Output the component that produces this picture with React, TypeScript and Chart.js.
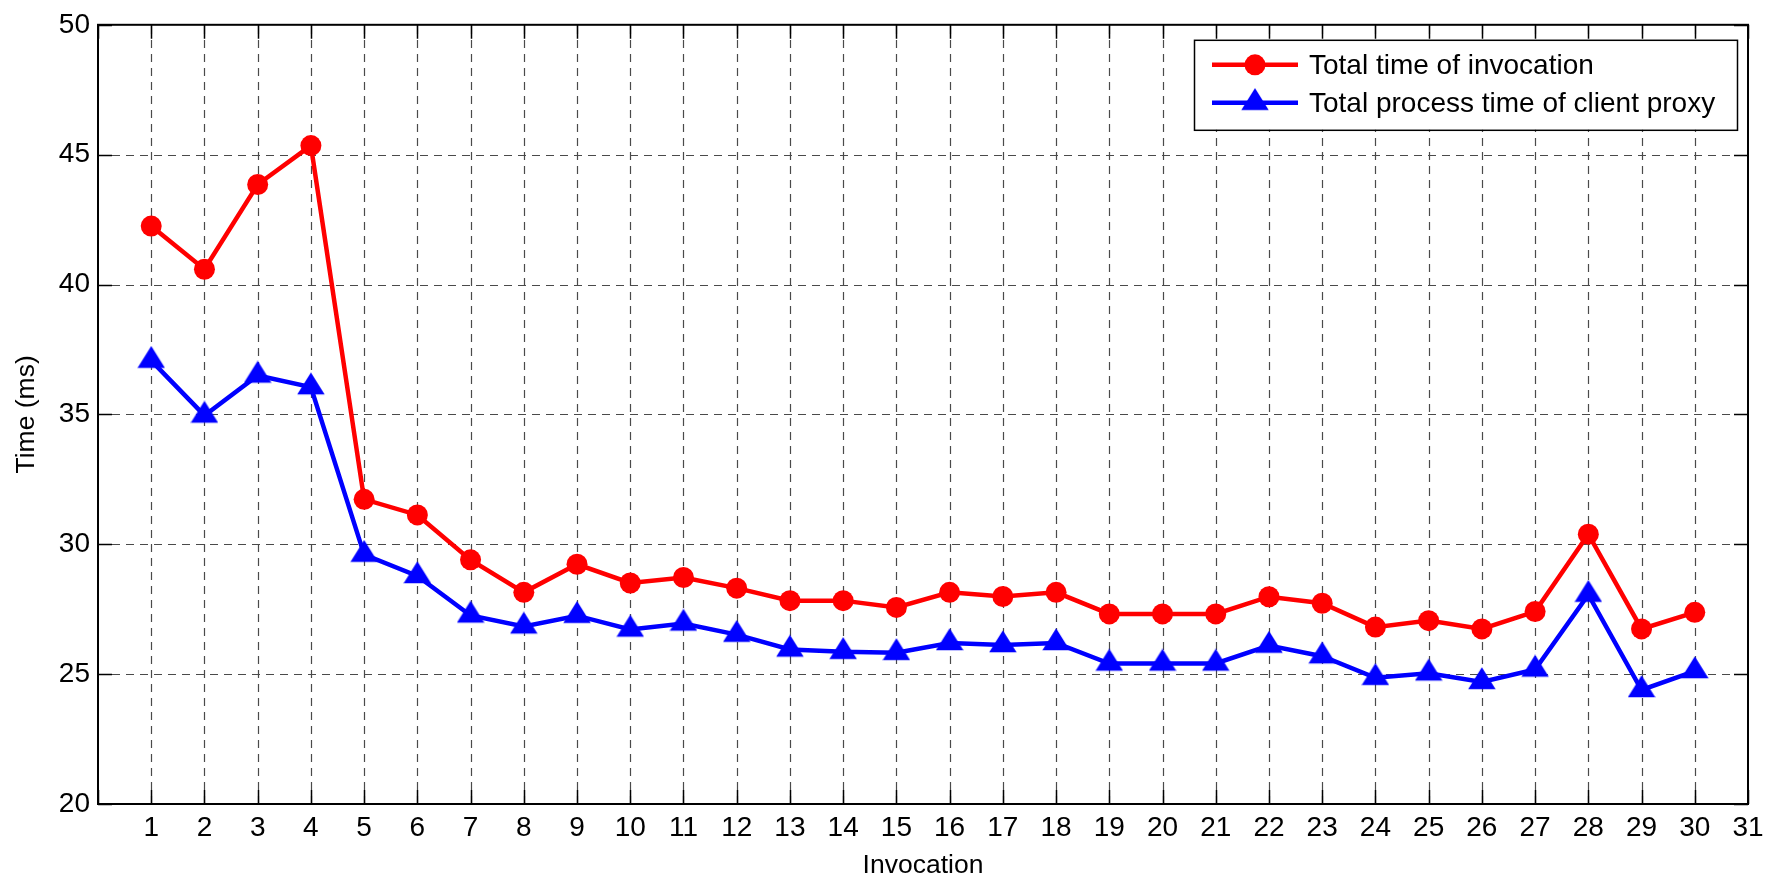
import React, { useEffect, useRef } from 'react';
import { Chart, registerables } from 'chart.js';

Chart.register(...registerables);

// ---- data ----
const invocations = [1, 2, 3, 4, 5, 6, 7, 8, 9, 10, 11, 12, 13, 14, 15, 16, 17, 18, 19, 20, 21, 22, 23, 24, 25, 26, 27, 28, 29, 30];
const totalTime = [42.25, 40.59, 43.85, 45.35, 31.73, 31.13, 29.4, 28.15, 29.23, 28.51, 28.72, 28.31, 27.83, 27.83, 27.57, 28.15, 27.99, 28.15, 27.32, 27.32, 27.32, 27.98, 27.73, 26.81, 27.06, 26.74, 27.41, 30.39, 26.74, 27.38];
const proxyTime = [37.07, 34.96, 36.5, 36.05, 29.6, 28.78, 27.26, 26.84, 27.25, 26.72, 26.95, 26.52, 25.95, 25.86, 25.82, 26.2, 26.12, 26.2, 25.41, 25.41, 25.41, 26.1, 25.69, 24.86, 25.03, 24.7, 25.18, 28.06, 24.39, 25.12];
const seriesLabels = ['Total time of invocation', 'Total process time of client proxy'];
const xAxisRange = [0, 31];
const yAxisRange = [20, 50];
const yTickStep = 5;
const xTitle = 'Invocation';
const yTitle = 'Time (ms)';

const FONT = '"Liberation Sans", Arial, Helvetica, sans-serif';

// triangle marker, centred on its centroid (like MATLAB's '^')
function makeTriangle(color: string): HTMLCanvasElement {
  const c = document.createElement('canvas');
  const w = 28, h = 30, th = 22;
  c.width = w; c.height = h;
  const g = c.getContext('2d')!;
  g.fillStyle = color;
  const apex = h / 2 - (2 / 3) * th;
  g.beginPath();
  g.moveTo(w / 2, apex);
  g.lineTo(w - 0.3, apex + th);
  g.lineTo(0.3, apex + th);
  g.closePath();
  g.fill();
  return c;
}

const framePlugin = {
  id: 'matlabFrame',
  beforeDatasetsDraw(chart: any) {
    const { ctx, chartArea } = chart;
    const { left, right, top, bottom } = chartArea;
    const xs = chart.scales.x, ys = chart.scales.y;
    ctx.save();
    ctx.strokeStyle = '#4a4a4a';
    ctx.lineWidth = 1.2;
    ctx.setLineDash([8, 6]);
    xs.ticks.forEach((t: any) => {
      const px = Math.round(xs.getPixelForValue(t.value)) + 0.5;
      if (px <= left + 2 || px >= right - 2) return;
      ctx.beginPath(); ctx.moveTo(px, bottom); ctx.lineTo(px, top); ctx.stroke();
    });
    ys.ticks.forEach((t: any) => {
      const py = Math.round(ys.getPixelForValue(t.value)) + 0.5;
      if (py <= top + 2 || py >= bottom - 2) return;
      ctx.beginPath(); ctx.moveTo(left, py); ctx.lineTo(right, py); ctx.stroke();
    });
    ctx.restore();
  },
  afterDraw(chart: any) {
    const { ctx, chartArea } = chart;
    const { left, right, top, bottom } = chartArea;
    const xs = chart.scales.x, ys = chart.scales.y;
    ctx.save();
    ctx.setLineDash([]);
    ctx.strokeStyle = '#000';
    ctx.lineWidth = 1.5;
    const tl = 14;
    xs.ticks.forEach((t: any) => {
      const px = Math.round(xs.getPixelForValue(t.value)) + 0.5;
      ctx.beginPath();
      ctx.moveTo(px, bottom); ctx.lineTo(px, bottom - tl);
      ctx.moveTo(px, top); ctx.lineTo(px, top + tl);
      ctx.stroke();
    });
    ys.ticks.forEach((t: any) => {
      const py = Math.round(ys.getPixelForValue(t.value)) + 0.5;
      ctx.beginPath();
      ctx.moveTo(left, py); ctx.lineTo(left + tl, py);
      ctx.moveTo(right, py); ctx.lineTo(right - tl, py);
      ctx.stroke();
    });
    ctx.lineWidth = 2;
    ctx.strokeRect(left, top, right - left, bottom - top);

    // legend
    const lw = 543, lh = 90;
    const lx = right - 11 - lw, ly = top + 15;
    ctx.fillStyle = '#fff';
    ctx.fillRect(lx, ly, lw, lh);
    ctx.lineWidth = 1.5;
    ctx.strokeStyle = '#000';
    ctx.strokeRect(lx + 0.5, ly + 0.5, lw, lh);
    const rows = [ly + 25, ly + 63];
    chart.data.datasets.forEach((ds: any, i: number) => {
      const ry = rows[i];
      ctx.strokeStyle = ds.borderColor;
      ctx.lineWidth = ds.borderWidth;
      ctx.beginPath(); ctx.moveTo(lx + 18, ry); ctx.lineTo(lx + 104, ry); ctx.stroke();
      const mx = lx + 61;
      if (ds.pointStyle === 'circle') {
        ctx.fillStyle = ds.pointBackgroundColor;
        ctx.beginPath(); ctx.arc(mx, ry, ds.pointRadius, 0, Math.PI * 2); ctx.fill();
      } else {
        const img = ds.pointStyle as HTMLCanvasElement;
        ctx.drawImage(img, mx - img.width / 2, ry - img.height / 2);
      }
      ctx.fillStyle = '#000';
      ctx.font = `28px ${FONT}`;
      ctx.textBaseline = 'middle';
      ctx.textAlign = 'left';
      ctx.fillText(ds.label, lx + 115, ry + 1);
    });
    ctx.restore();
  },
};

export default function App() {
  const ref = useRef<HTMLCanvasElement | null>(null);
  useEffect(() => {
    if (!ref.current) return;
    const tri = makeTriangle('#0000ff');
    const chart = new Chart(ref.current, {
      type: 'line',
      data: {
        datasets: [
          {
            label: seriesLabels[0],
            data: invocations.map((x, i) => ({ x, y: totalTime[i] })),
            borderColor: '#ff0000',
            backgroundColor: '#ff0000',
            pointBackgroundColor: '#ff0000',
            pointBorderColor: '#ff0000',
            pointBorderWidth: 0,
            pointStyle: 'circle',
            pointRadius: 10.5,
            borderWidth: 4.5,
            tension: 0,
          },
          {
            label: seriesLabels[1],
            data: invocations.map((x, i) => ({ x, y: proxyTime[i] })),
            borderColor: '#0000ff',
            backgroundColor: '#0000ff',
            pointBackgroundColor: '#0000ff',
            pointBorderColor: '#0000ff',
            pointStyle: tri as any,
            pointRadius: 14,
            borderWidth: 4.5,
            tension: 0,
          },
        ],
      },
      options: {
        responsive: false,
        animation: false,
        events: [],
        layout: { padding: { top: 22, right: 27, left: 0, bottom: 0 } },
        plugins: { legend: { display: false }, tooltip: { enabled: false } },
        scales: {
          x: {
            type: 'linear',
            min: xAxisRange[0],
            max: xAxisRange[1],
            grid: { display: false, drawTicks: false },
            border: { display: false },
            ticks: {
              stepSize: 1,
              autoSkip: false,
              maxRotation: 0,
              padding: 7,
              color: '#000',
              font: { family: FONT, size: 28 },
              callback: (v: any) => (v === xAxisRange[0] ? '' : String(v)),
            },
            title: {
              display: true,
              text: xTitle,
              color: '#000',
              font: { family: FONT, size: 26.5, lineHeight: 0.75 },
              padding: 0,
            },
            afterFit: (s: any) => { s.height = 72; },
          },
          y: {
            type: 'linear',
            min: yAxisRange[0],
            max: yAxisRange[1],
            grid: { display: false, drawTicks: false },
            border: { display: false },
            ticks: {
              stepSize: yTickStep,
              padding: 8,
              color: '#000',
              font: { family: FONT, size: 28 },
            },
            title: {
              display: true,
              text: yTitle,
              color: '#000',
              font: { family: FONT, size: 26.5, lineHeight: 1 },
              padding: { top: 13, bottom: 0 },
            },
            afterFit: (s: any) => { s.width = 98; },
          },
        },
      },
      plugins: [framePlugin],
    });
    return () => chart.destroy();
  }, []);
  return (
    <div style={{ position: 'absolute', left: 0, top: 0, width: 1775, height: 876, background: '#fff' }}>
      <canvas ref={ref} width={1775} height={876} style={{ display: 'block' }} />
    </div>
  );
}
